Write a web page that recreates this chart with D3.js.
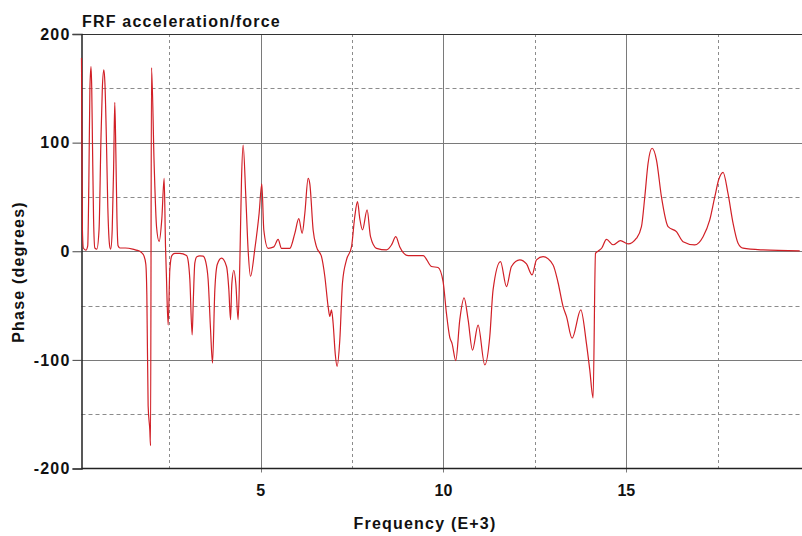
<!DOCTYPE html>
<html>
<head>
<meta charset="utf-8">
<script src="https://cdn.jsdelivr.net/npm/d3@7/dist/d3.min.js"></script>
<style>
  body { margin: 0; background: #fff; }
  text { font-family: "Liberation Sans", Arial, sans-serif; font-weight: bold; fill: #111; }
</style>
</head>
<body>
<script>
'use strict';

// frequency in kHz (E+3) and phase in degrees
const freq = [
  0.10, 0.11, 0.125, 0.15, 0.22, 0.27, 0.30, 0.33, 0.36, 0.38, 0.40, 0.43, 0.465, 0.52, 0.58, 0.63, 0.67, 0.71, 0.74, 0.78,
  0.82, 0.87, 0.90, 0.94, 0.98, 1.01, 1.04, 1.07, 1.10, 1.15, 1.30, 1.50, 1.60, 1.695, 1.75, 1.805, 1.859, 1.887, 1.922, 1.969,
  1.988, 2.015, 2.086, 2.152, 2.223, 2.297, 2.360, 2.398, 2.420, 2.469, 2.516, 2.570, 2.652, 2.789, 2.972, 3.022, 3.063, 3.126, 3.158, 3.199,
  3.254, 3.336, 3.426, 3.500, 3.563, 3.629, 3.683, 3.746, 3.815, 3.930, 4.066, 4.129, 4.176, 4.211, 4.266, 4.321, 4.383, 4.430, 4.476, 4.520,
  4.594, 4.657, 4.722, 4.840, 4.958, 5.031, 5.086, 5.204, 5.360, 5.477, 5.570, 5.797, 5.934, 6.043, 6.134, 6.208, 6.298, 6.344, 6.435, 6.527,
  6.664, 6.754, 6.845, 6.891, 6.937, 6.981, 7.041, 7.090, 7.164, 7.238, 7.347, 7.484, 7.574, 7.648, 7.711, 7.785, 7.911, 8.004, 8.168, 8.441,
  8.578, 8.696, 8.805, 9.032, 9.442, 9.672, 9.852, 9.989, 10.08, 10.17, 10.235, 10.336, 10.446, 10.563, 10.673, 10.793, 10.946, 11.129, 11.266, 11.356,
  11.559, 11.723, 11.859, 12.086, 12.270, 12.423, 12.543, 12.724, 12.997, 13.134, 13.271, 13.363, 13.517, 13.755, 13.910, 14.000, 14.091, 14.157, 14.227, 14.329,
  14.457, 14.640, 14.840, 15.048, 15.278, 15.414, 15.505, 15.595, 15.704, 15.825, 15.961, 16.142, 16.371, 16.552, 16.872, 17.099, 17.282, 17.419, 17.528, 17.646,
  17.782, 17.919, 18.056, 18.193, 18.740, 19.743
];
const phase = [
  178, 110, 20, 3, 1, 5, 60, 150, 170, 150, 100, 30, 3, 2, 20, 100, 150, 167, 155, 105,
  40, 5, 2, 20, 80, 137, 90, 30, 5, 3, 3, 2, 1, 0, -1.5, -4, -12, -40, -142, -165,
  -179, 169, 81, 22.6, 9, 30, 67, 4, -20, -68, -17, -4, -2, -2, -4, -10, -26, -77, -45, -11,
  -5, -4.3, -4.5, -10, -26, -72, -103, -36, -12, -6.4, -14, -35, -63, -30, -17.5, -30, -63, -11, 66, 97.8,
  50, 1, -23, 2, 35, 62, 19.6, 2.7, 4, 11, 2.7, 2.7, 16.5, 30, 16.5, 35, 67, 62, 19.6, 4,
  -5, -23, -51, -60, -54, -66, -95, -106, -82, -29, -8, 4, 32, 45.6, 30, 19.6, 38, 13.4, 2.7, 1.2,
  5.8, 13.4, 4, -4, -4, -14, -15, -28, -57, -79, -85, -100.6, -63, -43, -63, -91, -68, -104.6, -78.5, -35.6,
  -9.5, -32.5, -14, -8, -11.7, -21.8, -8, -5, -12.6, -29, -51, -60, -80, -54, -85, -109, -135, -2, 0, 3,
  11, 6, 9.8, 6.7, 12, 22.6, 50, 81, 94.8, 84, 50, 22.6, 18, 8.8, 5.8, 13.4, 28.8, 50, 66, 72.7,
  53, 25.8, 7.4, 2.8, 1.2, 0.3
];

const xMajor = [5, 10, 15];
const xMinor = [2.5, 7.5, 12.5, 17.5];
const yMajor = [-200, -100, 0, 100, 200];
const yMinor = [-150, -50, 50, 150];

(function() {
  const width = 802, height = 536;
  const padL = 81.5, padR = 802, padT = 34, padB = 468.5;

  const svg = d3.select('body').append('svg')
    .attr('width', width)
    .attr('height', height);

  const xScale = d3.scaleLinear().domain([0.1, 19.75]).range([padL, 800]);
  const yScale = d3.scaleLinear().domain([-200, 200]).range([padB, padT]);
  const px = (v) => Math.round(v) + 0.5;

  // dashed grid
  svg.append('g').selectAll('line')
    .data(xMinor).enter().append('line')
      .attr('x1', (d) => px(xScale(d))).attr('x2', (d) => px(xScale(d)))
      .attr('y1', padT).attr('y2', padB)
      .attr('stroke', '#8c8c8c').attr('stroke-dasharray', '3,3');
  svg.append('g').selectAll('line')
    .data(yMinor).enter().append('line')
      .attr('x1', padL).attr('x2', padR)
      .attr('y1', (d) => px(yScale(d))).attr('y2', (d) => px(yScale(d)))
      .attr('stroke', '#8c8c8c').attr('stroke-dasharray', '4,3');

  // solid grid
  svg.append('g').selectAll('line')
    .data(xMajor).enter().append('line')
      .attr('x1', (d) => px(xScale(d))).attr('x2', (d) => px(xScale(d)))
      .attr('y1', padT).attr('y2', padB + 4)
      .attr('stroke', '#7a7a7a');
  svg.append('g').selectAll('line')
    .data([-100, 0, 100]).enter().append('line')
      .attr('x1', padL).attr('x2', padR)
      .attr('y1', (d) => px(yScale(d))).attr('y2', (d) => px(yScale(d)))
      .attr('stroke', '#7a7a7a');

  // frame: top and bottom
  svg.append('line').attr('x1', padL).attr('x2', padR).attr('y1', padT + 0.5).attr('y2', padT + 0.5).attr('stroke', '#333');
  svg.append('line').attr('x1', padL).attr('x2', padR).attr('y1', padB).attr('y2', padB).attr('stroke', '#222').attr('stroke-width', 1.5);

  // y axis with ticks on the left (plain hyphen for negatives, like the original)
  const yAxis = d3.axisLeft(yScale).tickValues(yMajor).tickSize(9).tickPadding(3).tickFormat((d) => String(d));
  const yg = svg.append('g').attr('transform', `translate(${padL}, 0)`).call(yAxis);
  yg.attr('font-family', null).attr('font-size', null);
  yg.select('.domain').attr('stroke', '#222').attr('stroke-width', 1.5);
  yg.selectAll('.tick line').attr('stroke', '#444');
  yg.selectAll('.tick text')
    .style('font-size', '16px').style('letter-spacing', '1.2px').attr('x', -11);

  // x tick labels
  svg.append('g').selectAll('text')
    .data(xMajor).enter().append('text')
      .attr('x', (d) => xScale(d))
      .attr('y', 496)
      .attr('text-anchor', 'middle')
      .style('font-size', '16px')
      .text((d) => d);

  // the phase curve
  const points = freq.map((f, i) => [f, phase[i]]);
  const line = d3.line()
    .x((d) => xScale(d[0]))
    .y((d) => yScale(d[1]))
    .curve(d3.curveMonotoneX);
  svg.append('path')
    .datum(points)
    .attr('d', line)
    .attr('fill', 'none')
    .attr('stroke', '#d11f26')
    .attr('stroke-width', 1.2);

  // labels
  svg.append('text')
    .attr('x', 82).attr('y', 27)
    .style('font-size', '16px').style('letter-spacing', '1.2px')
    .text('FRF acceleration/force');

  svg.append('text')
    .attr('x', 425).attr('y', 529)
    .attr('text-anchor', 'middle')
    .style('font-size', '16px').style('letter-spacing', '1.2px')
    .text('Frequency (E+3)');

  svg.append('text')
    .attr('transform', 'translate(24, 272) rotate(-90)')
    .attr('text-anchor', 'middle')
    .style('font-size', '16px').style('letter-spacing', '1.2px')
    .text('Phase (degrees)');
})();
</script>
</body>
</html>
